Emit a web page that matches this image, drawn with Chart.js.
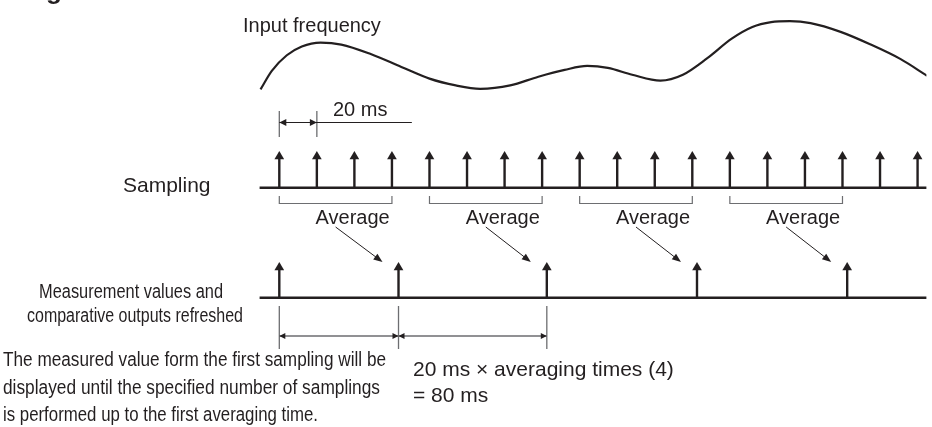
<!DOCTYPE html>
<html lang="en">
<head>
<meta charset="UTF-8">
<title>Averaging - sampling timing</title>
<script src="https://cdn.jsdelivr.net/npm/chart.js@4.4.0/dist/chart.umd.min.js"></script>
<style>
  html, body { margin: 0; padding: 0; background: #fff; }
  #wrap { width: 932px; height: 427px; }
</style>
</head>
<body>
<div id="wrap"><canvas id="timing" width="932" height="427"></canvas></div>
<script>
// time in ms (one sample every 20 ms)
const freqTimes = [-10, -4, 4, 12, 22, 33, 49, 65, 80, 94, 107, 123, 138, 152, 164, 175, 188, 203, 215, 228, 241, 252, 262, 272, 283, 299, 315, 331, 345];
// input frequency, relative units
const freqValues = [14, 33, 49, 58, 62, 60, 50, 37, 25, 18, 14.5, 18, 27, 34, 38, 36, 29, 23, 29, 46, 66, 78, 83, 84, 82, 73, 60, 45, 28];
const sampleTimes = [0, 20, 40, 60, 80, 100, 120, 140, 160, 180, 200, 220, 240, 260, 280, 300, 320, 340];
const averageGroups = [[0, 60], [80, 140], [160, 220], [240, 300]];
const refreshTimes = [0, 63.5, 142.5, 222.5, 302.5];
const trackStart = -10.5;
const trackEnd = 345;

const INK = '#231f20';
const GREY = '#6d6e71';
const FONT = '"Liberation Sans", Arial, Helvetica, sans-serif';

// pixel layout of the lanes (canvas is 932 x 427)
const H = 427;
function laneAxis(basePx, unitPx) {
  const max = basePx / unitPx;
  return { min: max - H / unitPx, max: max };
}
const sampAxis = laneAxis(187, 32);
const outAxis = laneAxis(300, 31);

function stems(times) {
  const pts = [];
  times.forEach(t => { pts.push({x: t, y: 0}, {x: t, y: 1}, {x: t, y: null}); });
  return pts;
}

function head(ctx, x, y, ang, len, half) {
  ctx.save();
  ctx.translate(x, y);
  ctx.rotate(ang);
  ctx.beginPath();
  ctx.moveTo(0, 0);
  ctx.lineTo(-len, -half);
  ctx.lineTo(-len, half);
  ctx.closePath();
  ctx.fill();
  ctx.restore();
}

function text(ctx, str, x, y, size, align, width, weight) {
  ctx.font = (weight || 'normal') + ' ' + size + 'px ' + FONT;
  ctx.textAlign = align || 'left';
  ctx.textBaseline = 'alphabetic';
  if (width) ctx.fillText(str, x, y, width);
  else ctx.fillText(str, x, y);
}

const annotations = {
  id: 'annotations',
  afterDatasetsDraw(chart) {
    const ctx = chart.ctx;
    const xs = chart.scales.x;
    const px = t => xs.getPixelForValue(t);
    ctx.save();
    ctx.fillStyle = INK;

    // cut-off heading at the top edge
    text(ctx, 'g', 46, -1, 26, 'left', null, 'bold');

    text(ctx, 'Input frequency', 243, 32, 20);
    text(ctx, 'Sampling', 123, 192, 21);

    // 20 ms dimension
    const s0 = px(sampleTimes[0]), s1 = px(sampleTimes[1]);
    ctx.strokeStyle = GREY;
    ctx.lineWidth = 1.3;
    ctx.beginPath();
    ctx.moveTo(s0, 111); ctx.lineTo(s0, 137);
    ctx.moveTo(s1, 111); ctx.lineTo(s1, 137);
    ctx.stroke();
    ctx.strokeStyle = INK;
    ctx.lineWidth = 1;
    ctx.beginPath();
    ctx.moveTo(s0, 122.5); ctx.lineTo(s1 + 95, 122.5);
    ctx.stroke();
    head(ctx, s0, 122.5, Math.PI, 7, 3.5);
    head(ctx, s1, 122.5, 0, 7, 3.5);
    text(ctx, '20 ms', 333, 116, 20);

    // average brackets, labels and arrows to the refresh
    averageGroups.forEach(([a, b], i) => {
      const x0 = px(a), x1 = px(b), xc = px((a + b) / 2);
      ctx.strokeStyle = GREY;
      ctx.lineWidth = 1.2;
      ctx.beginPath();
      ctx.moveTo(x0, 196); ctx.lineTo(x0, 203.5); ctx.lineTo(x1, 203.5); ctx.lineTo(x1, 196);
      ctx.stroke();
      text(ctx, 'Average', xc + 17, 224, 20, 'center');
      const tx = px(refreshTimes[i + 1]) - 16, ty = 262;
      const sx = xc, sy = 227;
      const ang = Math.atan2(ty - sy, tx - sx);
      ctx.strokeStyle = INK;
      ctx.lineWidth = 1;
      ctx.beginPath();
      ctx.moveTo(sx, sy);
      ctx.lineTo(tx - Math.cos(ang) * 6, ty - Math.sin(ang) * 6);
      ctx.stroke();
      head(ctx, tx, ty, ang, 9, 3.5);
    });

    text(ctx, 'Measurement values and', 131, 298, 20, 'center', 184);
    text(ctx, 'comparative outputs refreshed', 135, 322, 20, 'center', 216);

    // refresh interval dimensions
    const r0 = px(refreshTimes[0]), r1 = px(refreshTimes[1]), r2 = px(refreshTimes[2]);
    ctx.strokeStyle = GREY;
    ctx.lineWidth = 1.3;
    ctx.beginPath();
    [r0, r1, r2].forEach(r => { ctx.moveTo(r, 306); ctx.lineTo(r, 349); });
    ctx.moveTo(r0, 336); ctx.lineTo(r2, 336);
    ctx.stroke();
    head(ctx, r0, 336, Math.PI, 6, 3);
    head(ctx, r1, 336, 0, 6, 3);
    head(ctx, r1, 336, Math.PI, 6, 3);
    head(ctx, r2, 336, 0, 6, 3);

    text(ctx, 'The measured value form the first sampling will be', 3, 366, 20, 'left', 383);
    text(ctx, 'displayed until the specified number of samplings', 3, 394, 20, 'left', 377);
    text(ctx, 'is performed up to the first averaging time.', 3, 421, 20, 'left', 315);

    text(ctx, '20 ms \u00d7 averaging times (4)', 413, 376, 21);
    text(ctx, '= 80 ms', 413, 402, 21);
    ctx.restore();
  }
};

new Chart(document.getElementById('timing'), {
  type: 'line',
  data: {
    datasets: [
      {
        label: 'Input frequency',
        yAxisID: 'yFreq',
        data: freqTimes.map((t, i) => ({x: t, y: freqValues[i]})),
        borderColor: INK,
        borderWidth: 2.2,
        cubicInterpolationMode: 'monotone',
        pointRadius: 0
      },
      {
        label: 'Sampling line',
        yAxisID: 'ySamp',
        data: [{x: trackStart, y: 0}, {x: trackEnd, y: 0}],
        borderColor: INK,
        borderWidth: 2.5,
        pointRadius: 0
      },
      {
        label: 'Sampling',
        yAxisID: 'ySamp',
        data: stems(sampleTimes),
        borderColor: INK,
        borderWidth: 2.4,
        spanGaps: false,
        pointRadius: 0
      },
      {
        label: 'Sampling heads',
        yAxisID: 'ySamp',
        data: sampleTimes.map(t => ({x: t, y: 1})),
        showLine: false,
        pointStyle: 'triangle',
        pointRadius: 5.6,
        pointBorderWidth: 0,
        pointBackgroundColor: INK
      },
      {
        label: 'Refresh line',
        yAxisID: 'yOut',
        data: [{x: trackStart, y: 0}, {x: trackEnd, y: 0}],
        borderColor: INK,
        borderWidth: 2.5,
        pointRadius: 0
      },
      {
        label: 'Refresh',
        yAxisID: 'yOut',
        data: stems(refreshTimes),
        borderColor: INK,
        borderWidth: 2.4,
        spanGaps: false,
        pointRadius: 0
      },
      {
        label: 'Refresh heads',
        yAxisID: 'yOut',
        data: refreshTimes.map(t => ({x: t, y: 1})),
        showLine: false,
        pointStyle: 'triangle',
        pointRadius: 5.6,
        pointBorderWidth: 0,
        pointBackgroundColor: INK
      }
    ]
  },
  options: {
    responsive: false,
    devicePixelRatio: 1,
    animation: false,
    events: [],
    layout: { padding: 0 },
    plugins: {
      legend: { display: false },
      tooltip: { enabled: false }
    },
    scales: {
      x: { type: 'linear', min: -145.8, max: 344.7, display: false },
      yFreq: { type: 'linear', min: -327, max: 100, display: false },
      ySamp: { type: 'linear', min: sampAxis.min, max: sampAxis.max, display: false },
      yOut: { type: 'linear', min: outAxis.min, max: outAxis.max, display: false }
    }
  },
  plugins: [annotations]
});
</script>
</body>
</html>
